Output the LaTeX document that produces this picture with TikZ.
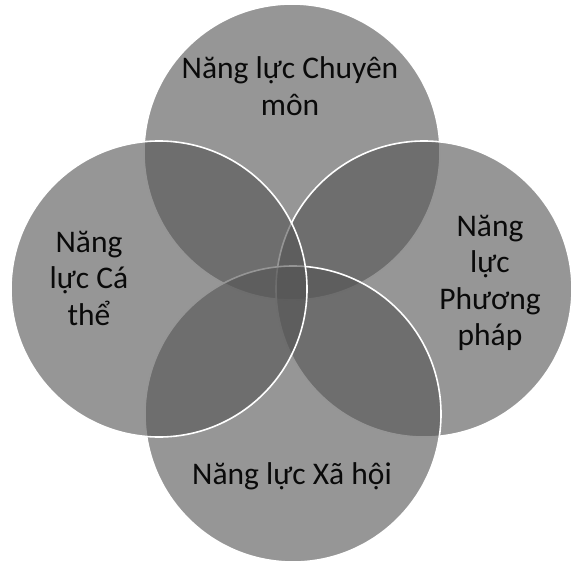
\documentclass[tikz,border=0pt]{standalone}
\usepackage{fontspec}
\setmainfont{Carlito}
\usepackage{tikz}
\usetikzlibrary{positioning}
\definecolor{ringfill}{RGB}{85,85,85}
\definecolor{ringline}{RGB}{255,255,255}
\definecolor{labeltext}{RGB}{10,10,10}
\tikzset{
  ringnode/.style={
    circle, draw=ringline, line width=1.6pt, fill=ringfill, fill opacity=0.62,
    draw opacity=1, minimum size=296pt, inner sep=0pt, outer sep=0pt
  },
  ringlabel/.style={
    text=labeltext, font=\fontsize{31.5}{36.5}\selectfont, align=center,
    inner sep=0pt
  }
}
\begin{document}
\begin{tikzpicture}[x=1pt, y=-1pt]
  \useasboundingbox (0,0) rectangle (577,564);

  % rings, back to front
  \node[ringnode] (chuyenmon) at (292,152) {};
  \node[ringnode] (phuongphap) at (424,289) {};
  \node[ringnode] (xahoi) at (293,414) {};
  \node[ringnode] (cathe) at (159,289) {};

  \node[ringlabel] (lchuyenmon) at (290,86) {Năng lực Chuyên\\môn};
  \node[ringlabel] (lphuongphap) at (490,283) {Năng\\lực\\Phương\\pháp};
  \node[ringlabel] (lxahoi) at (292,476) {Năng lực Xã hội};
  \node[ringlabel] (lcathe) at (89,278) {Năng\\lực Cá\\thể};

\end{tikzpicture}
\end{document}
